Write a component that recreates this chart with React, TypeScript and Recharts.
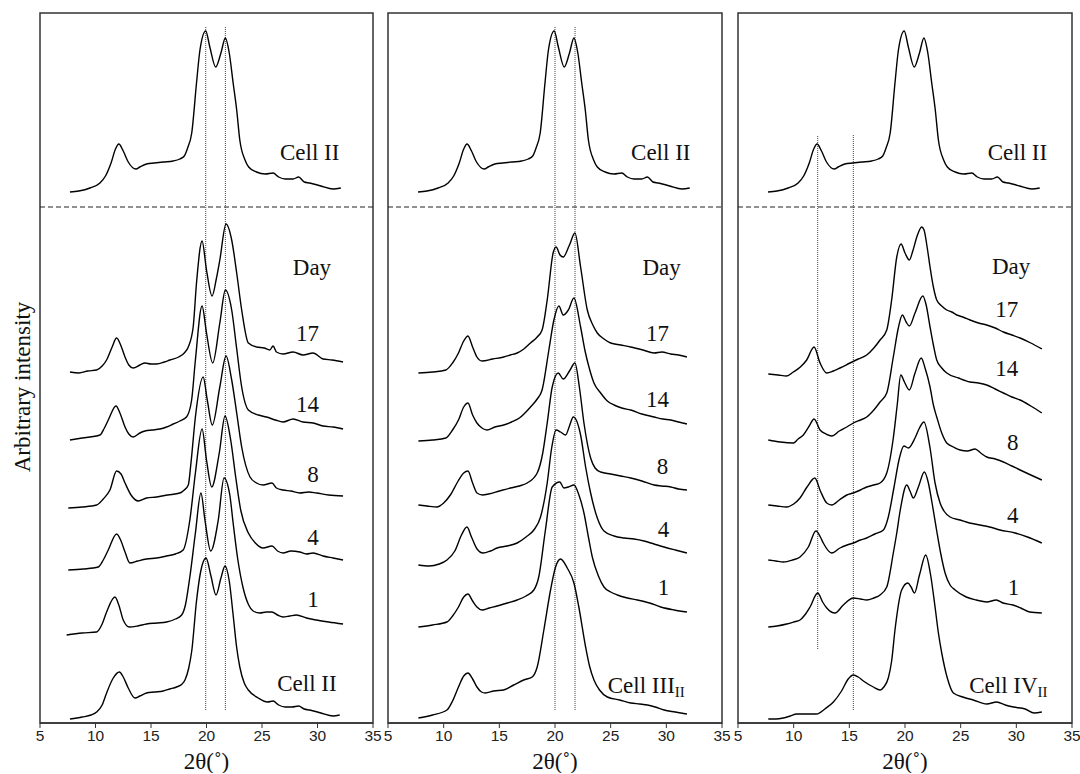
import React from 'react';
import {
  LineChart,
  Line,
  XAxis,
  YAxis,
  ReferenceArea,
  ReferenceLine,
  ReferenceDot,
} from 'recharts';

type Pt = [number, number];
type Tag = { x: number; y: number; text: string; sub?: string };
type Guide = { x: number; from: number; to: number };

const serif = '"Liberation Serif", "Times New Roman", Times, serif';
const sans = '"Liberation Sans", Arial, Helvetica, sans-serif';

// 2θ ticks, shared by all three panels
const xTicks = [5, 10, 15, 20, 25, 30, 35];

// reference pattern (cellulose II) drawn above the dashed line
const cellIIRef: Pt[] = [
  [7.7, 531], [8.5, 532], [9.5, 535], [10.4, 540], [10.9, 547], [11.4, 560], [11.8, 574], [12.1, 579],
  [12.5, 572], [12.95, 561], [13.65, 554], [14.0, 556], [14.6, 559], [15.3, 560], [16.1, 561], [17.0, 562],
  [17.6, 564], [18.0, 567], [18.3, 575], [18.67, 590], [19.1, 640], [19.41, 673], [19.93, 692], [20.3, 676],
  [20.83, 656], [21.3, 670], [21.7, 685], [22.05, 670], [22.4, 640], [22.72, 613], [23.0, 583], [23.47, 563],
  [23.8, 556], [24.5, 551], [25.3, 549], [26.0, 550], [26.5, 546], [27.1, 544], [27.8, 544], [28.3, 546],
  [28.8, 541], [29.3, 540], [30.3, 537], [31.4, 534], [32.1, 535],
];

// panel 1: days 17 / 14 / 8 / 4 / 1, cellulose II
const p1Day17: Pt[] = [
  [7.7, 351], [8.5, 350], [9.3, 352], [10.1, 353], [10.6, 357], [11.0, 363], [11.5, 376], [11.9, 385],
  [12.3, 377], [12.66, 366], [13.0, 358], [13.4, 355], [14.0, 358], [14.46, 360], [15.0, 359], [15.5, 359],
  [16.2, 361], [16.7, 363], [17.5, 366], [18.0, 370], [18.36, 376], [18.8, 396], [19.1, 440], [19.6, 482],
  [20.0, 453], [20.5, 427], [20.9, 445], [21.2, 463], [21.76, 499], [22.27, 483], [22.72, 450], [23.17, 413],
  [23.77, 380], [24.52, 376], [25.2, 375], [25.7, 373], [26.0, 377], [26.3, 371], [26.9, 369], [27.8, 371],
  [28.7, 368], [29.6, 370], [30.5, 364], [31.3, 363], [32.3, 361],
];
const p1Day14: Pt[] = [
  [7.7, 283], [8.8, 285], [10.4, 288], [10.8, 295], [11.15, 303], [11.85, 317], [12.2, 310], [12.66, 296],
  [13.0, 289], [13.4, 286], [14.0, 290], [14.46, 292], [15.1, 293], [15.8, 294], [16.4, 296], [17.0, 299],
  [17.6, 302], [18.2, 306], [18.66, 323], [19.0, 363], [19.6, 417], [20.0, 390], [20.56, 360], [21.2, 400],
  [21.7, 433], [22.27, 413], [22.7, 376], [23.17, 336], [23.77, 313], [24.67, 308], [25.4, 306], [26.2, 303],
  [26.9, 301], [27.8, 304], [28.7, 301], [29.6, 300], [30.5, 297], [31.4, 296], [32.3, 294],
];
const p1Day8: Pt[] = [
  [7.55, 215], [8.8, 216], [10.1, 218], [10.7, 224], [11.3, 233], [11.9, 252], [12.3, 249], [12.66, 240],
  [13.2, 228], [13.86, 222], [14.6, 225], [15.5, 226], [16.5, 228], [17.6, 230], [18.0, 233], [18.36, 238],
  [18.6, 260], [19.0, 306], [19.7, 346], [20.07, 323], [20.52, 298], [21.2, 336], [21.76, 367], [22.27, 343],
  [22.72, 310], [23.17, 276], [23.92, 246], [24.5, 240], [25.1, 238], [25.9, 240], [26.3, 235], [26.9, 233],
  [27.6, 232], [28.4, 230], [29.2, 231], [29.9, 230], [31.0, 228], [32.3, 227],
];
const p1Day4: Pt[] = [
  [7.55, 153], [8.9, 154], [10.25, 156], [10.7, 163], [11.15, 173], [11.9, 189], [12.3, 182], [12.66, 171],
  [13.1, 160], [13.8, 162], [14.6, 164], [15.5, 165], [16.4, 167], [17.2, 169], [17.9, 173], [18.5, 203],
  [19.0, 250], [19.6, 294], [20.0, 263], [20.47, 236], [21.15, 270], [21.67, 307], [22.18, 283], [22.63, 246],
  [23.08, 213], [23.77, 190], [24.4, 180], [25.1, 175], [25.9, 177], [26.4, 172], [26.9, 170], [27.6, 172],
  [28.4, 171], [29.0, 169], [29.6, 170], [30.5, 167], [31.4, 165], [32.3, 163],
];
const p1Day1: Pt[] = [
  [7.4, 88], [8.8, 90], [10.1, 91], [10.6, 99], [11.0, 111], [11.75, 126], [12.1, 118], [12.5, 103],
  [13.05, 96], [13.8, 97], [14.6, 99], [15.5, 100], [16.4, 101], [17.2, 104], [17.76, 108], [18.1, 118],
  [18.5, 146], [19.0, 190], [19.5, 230], [19.86, 203], [20.38, 172], [21.06, 203], [21.58, 245], [22.1, 228],
  [22.4, 200], [22.8, 165], [23.3, 135], [23.8, 118], [24.2, 112], [24.8, 110], [25.4, 111], [25.9, 111],
  [26.4, 108], [26.9, 106], [27.5, 107], [28.1, 108], [29.0, 105], [29.9, 103], [31.0, 101], [32.3, 99],
];
const p1CellII: Pt[] = [
  [7.7, 4], [8.8, 6], [9.6, 8], [10.1, 11], [10.6, 18], [11.0, 30], [11.6, 45], [12.15, 51],
  [12.5, 46], [12.95, 35], [13.56, 25], [14.0, 27], [14.6, 30], [15.3, 31], [16.1, 32], [16.7, 34],
  [17.3, 36], [17.8, 39], [18.06, 43], [18.4, 55], [18.67, 72], [19.1, 122], [19.45, 150], [19.96, 165],
  [20.4, 147], [20.86, 128], [21.3, 145], [21.67, 157], [22.05, 142], [22.4, 108], [22.7, 77], [23.0, 56],
  [23.4, 40], [23.77, 33], [24.67, 25], [25.5, 21], [26.0, 22], [26.5, 18], [27.1, 16], [27.7, 16],
  [28.3, 17], [28.8, 14], [29.3, 13], [30.3, 10], [31.4, 7], [32.0, 8],
];

// panel 2: towards cellulose III_II
const p2Day17: Pt[] = [
  [7.73, 350], [9.0, 351], [10.2, 353], [10.8, 360], [11.33, 370], [11.8, 382], [12.18, 387], [12.6, 376],
  [12.99, 366], [13.44, 362], [14.4, 364], [15.39, 366], [16.0, 368], [16.6, 370], [17.2, 374], [17.8, 380],
  [18.4, 386], [18.84, 393], [19.3, 423], [19.83, 470], [20.1, 476], [20.45, 468], [20.74, 466], [21.3, 478],
  [21.79, 490], [22.3, 456], [22.9, 413], [23.4, 398], [23.8, 390], [24.4, 384], [25.0, 380], [25.9, 378],
  [26.8, 376], [27.9, 373], [28.9, 370], [29.6, 371], [30.4, 369], [31.1, 368], [31.85, 366],
];
const p2Day14: Pt[] = [
  [7.73, 282], [9.0, 283], [10.2, 285], [10.8, 293], [11.33, 303], [11.8, 316], [12.18, 320], [12.6, 308],
  [12.99, 300], [13.44, 295], [13.89, 293], [14.6, 296], [15.39, 298], [16.1, 301], [16.8, 305], [17.8, 316],
  [18.4, 324], [18.84, 333], [19.45, 373], [19.9, 403], [20.35, 417], [20.74, 408], [21.2, 413], [21.7, 425],
  [22.3, 396], [22.7, 372], [23.05, 356], [23.5, 340], [24.1, 330], [24.7, 322], [25.3, 318], [26.0, 315],
  [26.8, 313], [27.8, 309], [28.9, 306], [29.7, 304], [30.4, 303], [31.1, 301], [31.85, 299],
];
const p2Day8: Pt[] = [
  [7.73, 218], [8.5, 217], [9.39, 216], [10.0, 220], [10.6, 228], [11.3, 242], [11.8, 250], [12.18, 252],
  [12.6, 240], [12.99, 230], [13.5, 228], [14.04, 229], [15.0, 232], [16.0, 235], [16.8, 237], [17.5, 240],
  [18.4, 250], [18.9, 270], [19.3, 300], [19.75, 336], [20.29, 350], [20.74, 344], [21.3, 352], [21.79, 360],
  [22.2, 335], [22.6, 300], [23.2, 265], [23.6, 255], [24.1, 251], [25.0, 249], [25.9, 247], [26.8, 245],
  [27.8, 242], [28.9, 238], [29.6, 237], [30.4, 236], [31.1, 234], [31.85, 233],
];
const p2Day4: Pt[] = [
  [7.73, 158], [8.7, 157], [9.6, 159], [10.3, 163], [11.0, 172], [11.6, 188], [12.09, 196], [12.5, 186],
  [13.0, 174], [13.53, 170], [14.2, 172], [14.8, 175], [15.7, 177], [16.6, 180], [17.4, 186], [18.1, 193],
  [18.7, 206], [19.3, 240], [19.7, 275], [20.1, 293], [20.5, 291], [20.95, 288], [21.3, 297], [21.64, 306],
  [22.3, 288], [22.75, 256], [23.2, 230], [23.8, 205], [24.4, 192], [25.3, 187], [26.2, 185], [27.1, 184],
  [28.0, 182], [28.9, 179], [29.8, 176], [30.8, 173], [31.85, 170],
];
const p2Day1: Pt[] = [
  [7.73, 96], [9.0, 98], [10.29, 101], [10.8, 107], [11.33, 116], [11.8, 126], [12.18, 129], [12.6, 122],
  [12.99, 116], [13.44, 113], [14.1, 115], [14.8, 117], [15.7, 120], [16.6, 123], [17.4, 127], [18.1, 133],
  [18.54, 146], [19.14, 193], [19.75, 236], [20.43, 241], [20.8, 235], [21.2, 236], [21.7, 238], [22.15, 228],
  [22.6, 210], [23.0, 186], [23.35, 166], [23.9, 147], [24.4, 136], [25.0, 131], [25.6, 128], [26.5, 125],
  [27.4, 123], [28.5, 120], [29.5, 116], [30.7, 113], [31.85, 111],
];
const p2CellIII: Pt[] = [
  [7.73, 5], [9.0, 8], [10.29, 13], [10.8, 22], [11.33, 36], [11.8, 47], [12.18, 50], [12.6, 44],
  [12.99, 36], [13.4, 31], [13.74, 30], [14.5, 32], [15.39, 33], [16.29, 38], [17.19, 43], [17.95, 46],
  [18.4, 56], [19.0, 93], [19.6, 133], [20.05, 156], [20.5, 164], [21.1, 155], [21.7, 140], [22.14, 116],
  [22.75, 76], [23.1, 57], [23.5, 43], [24.0, 33], [24.7, 26], [25.8, 23], [26.8, 20], [27.6, 19],
  [28.3, 18], [29.0, 16], [29.8, 13], [30.8, 11], [31.85, 9],
];

// panel 3: towards cellulose IV_II
const p3Day17: Pt[] = [
  [7.72, 349], [8.6, 348], [9.37, 347], [9.97, 351], [10.6, 356], [11.17, 363], [11.83, 376], [12.37, 360],
  [12.97, 350], [13.56, 352], [14.16, 355], [15.06, 360], [15.8, 364], [16.56, 368], [17.2, 375], [17.76, 383],
  [18.36, 393], [18.8, 423], [19.26, 466], [19.65, 479], [20.0, 470], [20.39, 463], [20.7, 472], [21.06, 486],
  [21.5, 496], [21.71, 493], [22.0, 475], [22.25, 456], [22.55, 436], [22.85, 423], [23.3, 417], [23.75, 413],
  [24.2, 411], [24.65, 408], [25.2, 406], [25.84, 403], [26.6, 400], [27.34, 398], [28.1, 395], [28.84, 391],
  [29.6, 388], [30.34, 385], [31.3, 380], [32.29, 374],
];
const p3Day14: Pt[] = [
  [7.72, 283], [8.8, 281], [9.97, 280], [10.4, 284], [10.87, 288], [11.4, 297], [11.83, 304], [12.37, 293],
  [12.9, 289], [13.42, 287], [14.1, 292], [14.77, 296], [15.36, 300], [16.0, 303], [16.56, 306], [17.2, 313],
  [17.76, 321], [18.36, 330], [18.95, 366], [19.4, 395], [19.76, 408], [20.1, 401], [20.39, 397], [20.9, 410],
  [21.6, 427], [21.9, 418], [22.25, 396], [22.55, 378], [22.85, 363], [23.3, 355], [23.75, 350], [24.8, 345],
  [25.84, 341], [26.6, 340], [27.34, 338], [28.1, 334], [28.84, 330], [29.6, 326], [30.34, 323], [31.3, 317],
  [32.29, 310],
];
const p3Day8: Pt[] = [
  [7.72, 218], [8.5, 217], [9.37, 216], [10.0, 219], [10.57, 225], [11.2, 236], [11.9, 245], [12.4, 232],
  [12.97, 220], [13.42, 218], [14.1, 223], [14.77, 228], [15.36, 230], [16.0, 233], [16.56, 236], [17.2, 238],
  [17.76, 240], [18.36, 250], [18.95, 285], [19.3, 318], [19.62, 348], [19.95, 341], [20.39, 333], [20.9, 350],
  [21.46, 365], [21.8, 355], [22.25, 336], [22.55, 318], [22.85, 306], [23.3, 290], [23.75, 280], [24.35, 276],
  [24.95, 273], [25.6, 272], [26.3, 274], [26.8, 270], [27.34, 266], [28.1, 264], [28.84, 261], [29.6, 257],
  [30.34, 253], [31.3, 248], [32.29, 243],
];
const p3Day4: Pt[] = [
  [7.72, 163], [8.4, 162], [9.07, 161], [9.9, 163], [10.57, 166], [11.32, 176], [12.0, 192], [12.4, 186],
  [12.66, 180], [13.42, 170], [14.16, 175], [14.8, 178], [15.36, 180], [16.0, 183], [16.56, 185], [17.3, 189],
  [18.06, 193], [18.5, 206], [19.0, 235], [19.5, 265], [19.9, 277], [20.3, 275], [20.9, 285], [21.3, 295],
  [21.7, 301], [22.25, 275], [22.7, 240], [23.15, 220], [23.5, 212], [24.05, 206], [24.95, 203], [25.8, 200],
  [26.74, 198], [27.6, 196], [28.54, 193], [29.89, 190], [31.0, 186], [32.29, 180],
];
const p3Day1: Pt[] = [
  [7.72, 96], [8.5, 97], [9.37, 99], [10.0, 101], [10.57, 103], [11.0, 108], [11.47, 116], [12.16, 130],
  [12.6, 121], [12.97, 115], [13.72, 110], [14.46, 118], [15.36, 125], [16.0, 124], [16.56, 123], [17.2, 125],
  [17.76, 128], [18.36, 136], [18.95, 170], [19.26, 190], [19.56, 212], [20.16, 238], [20.45, 232], [20.75, 225],
  [21.2, 236], [21.74, 251], [22.1, 240], [22.4, 222], [22.85, 192], [23.2, 170], [23.6, 150], [24.05, 138],
  [24.5, 133], [25.5, 126], [26.4, 123], [27.34, 121], [28.2, 123], [28.8, 120], [29.7, 118], [30.4, 115],
  [31.2, 111], [32.29, 110],
];
const p3CellIV: Pt[] = [
  [7.72, 4], [8.4, 4], [9.07, 5], [9.7, 7], [10.27, 9], [11.2, 9], [12.07, 9], [12.8, 14],
  [13.57, 21], [14.3, 32], [14.9, 44], [15.36, 48], [15.8, 46], [16.26, 42], [17.16, 36], [17.76, 33],
  [18.1, 36], [18.5, 45], [18.8, 62], [19.1, 93], [19.7, 133], [20.25, 140], [20.55, 136], [20.85, 130],
  [21.3, 148], [21.86, 168], [22.3, 148], [22.7, 116], [23.0, 90], [23.3, 70], [23.8, 45], [24.35, 30],
  [25.2, 26], [26.14, 23], [27.34, 19], [28.24, 21], [29.0, 18], [29.74, 16], [30.8, 14], [31.6, 10],
  [32.29, 11],
];

// text labels (x in 2θ, y in plot intensity units)
const p1Tags: Tag[] = [
  { x: 29.3, y: 571, text: 'Cell II' },
  { x: 29.5, y: 456, text: 'Day' },
  { x: 29.1, y: 390, text: '17' },
  { x: 29.1, y: 319, text: '14' },
  { x: 29.6, y: 249, text: '8' },
  { x: 29.6, y: 186, text: '4' },
  { x: 29.6, y: 124, text: '1' },
  { x: 29.05, y: 40, text: 'Cell II' },
];
const p2Tags: Tag[] = [
  { x: 29.5, y: 571, text: 'Cell II' },
  { x: 29.57, y: 456, text: 'Day' },
  { x: 29.2, y: 390, text: '17' },
  { x: 29.2, y: 324, text: '14' },
  { x: 29.66, y: 257, text: '8' },
  { x: 29.75, y: 194, text: '4' },
  { x: 29.75, y: 136, text: '1' },
  { x: 28.2, y: 38, text: 'Cell III', sub: 'II' },
];
const p3Tags: Tag[] = [
  { x: 30.1, y: 571, text: 'Cell II' },
  { x: 29.53, y: 457, text: 'Day' },
  { x: 29.14, y: 414, text: '17' },
  { x: 29.14, y: 355, text: '14' },
  { x: 29.68, y: 281, text: '8' },
  { x: 29.68, y: 208, text: '4' },
  { x: 29.74, y: 136, text: '1' },
  { x: 29.29, y: 38, text: 'Cell IV', sub: 'II' },
];

// dotted peak guides
const p1Guides: Guide[] = [
  { x: 19.93, from: 13, to: 697 },
  { x: 21.7, from: 13, to: 697 },
];
const p2Guides: Guide[] = [
  { x: 20.0, from: 13, to: 697 },
  { x: 21.8, from: 13, to: 697 },
];
const p3Guides: Guide[] = [
  { x: 12.16, from: 74, to: 588 },
  { x: 15.36, from: 13, to: 588 },
];

const toRows = (pts: Pt[]) => pts.map(([x, y]) => ({ x, y }));

const labelShape = (t: Tag, rotate = false) => (props: any) => (
  <text
    x={props.cx}
    y={props.cy}
    textAnchor="middle"
    dominantBaseline="central"
    fontFamily={serif}
    fontSize={23}
    fill="#111"
    transform={rotate ? `rotate(-90, ${props.cx}, ${props.cy})` : undefined}
  >
    {t.text}
    {t.sub && (
      <tspan fontSize={15} dy={7}>
        {t.sub}
      </tspan>
    )}
  </text>
);

interface PanelProps {
  plotLeft: number;
  plotWidth: number;
  padLeft: number;
  curves: Pt[][];
  tags: Tag[];
  guides: Guide[];
  yTitle?: boolean;
}

const Panel: React.FC<PanelProps> = ({ plotLeft, plotWidth, padLeft, curves, tags, guides, yTitle }) => (
  <div style={{ position: 'absolute', left: plotLeft - padLeft, top: 3 }}>
    <LineChart
      width={plotWidth + padLeft + 10}
      height={770}
      margin={{ top: 10, right: 10, bottom: 0, left: padLeft }}
    >
      <XAxis
        type="number"
        dataKey="x"
        domain={[5, 35]}
        ticks={xTicks}
        allowDataOverflow
        height={50}
        tickSize={5}
        tickMargin={2}
        tick={{ fontFamily: sans, fontSize: 15.5, fill: '#222' }}
        tickLine={{ stroke: '#333' }}
        axisLine={{ stroke: '#333', strokeWidth: 1.5 }}
        label={{ value: '2θ(˚)', position: 'insideBottom', offset: 4, fontFamily: serif, fontSize: 23, fill: '#111' }}
      />
      <YAxis type="number" dataKey="y" domain={[0, 710]} allowDataOverflow hide />
      <ReferenceArea x1={5} x2={35} y1={0} y2={710} fill="none" stroke="#333" strokeWidth={1.5} />
      <ReferenceLine y={516} stroke="#222" strokeDasharray="5 3" strokeWidth={1.2} />
      {guides.map((g, i) => (
        <ReferenceLine
          key={`g${i}`}
          segment={[{ x: g.x, y: g.from }, { x: g.x, y: g.to }]}
          stroke="#444"
          strokeDasharray="1 1"
          strokeWidth={1}
        />
      ))}
      {curves.map((c, i) => (
        <Line
          key={`c${i}`}
          data={toRows(c)}
          dataKey="y"
          type="monotone"
          stroke="#000"
          strokeWidth={1.4}
          dot={false}
          activeDot={false}
          isAnimationActive={false}
        />
      ))}
      {tags.map((t, i) => (
        <ReferenceDot key={`t${i}`} x={t.x} y={t.y} r={0} shape={labelShape(t)} />
      ))}
      {yTitle && (
        <ReferenceDot
          x={3.38}
          y={336}
          r={0}
          ifOverflow="visible"
          shape={labelShape({ x: 3.38, y: 336, text: 'Arbitrary intensity' }, true)}
        />
      )}
    </LineChart>
  </div>
);

export default function App() {
  return (
    <div
      style={{
        position: 'absolute',
        left: 0,
        top: 0,
        width: 1080,
        height: 774,
        overflow: 'hidden',
        background: '#fff',
      }}
    >
      <Panel
        plotLeft={40}
        plotWidth={333}
        padLeft={40}
        curves={[cellIIRef, p1Day17, p1Day14, p1Day8, p1Day4, p1Day1, p1CellII]}
        tags={p1Tags}
        guides={p1Guides}
        yTitle
      />
      <Panel
        plotLeft={388}
        plotWidth={334}
        padLeft={10}
        curves={[cellIIRef, p2Day17, p2Day14, p2Day8, p2Day4, p2Day1, p2CellIII]}
        tags={p2Tags}
        guides={p2Guides}
      />
      <Panel
        plotLeft={738}
        plotWidth={334}
        padLeft={10}
        curves={[cellIIRef, p3Day17, p3Day14, p3Day8, p3Day4, p3Day1, p3CellIV]}
        tags={p3Tags}
        guides={p3Guides}
      />
    </div>
  );
}
